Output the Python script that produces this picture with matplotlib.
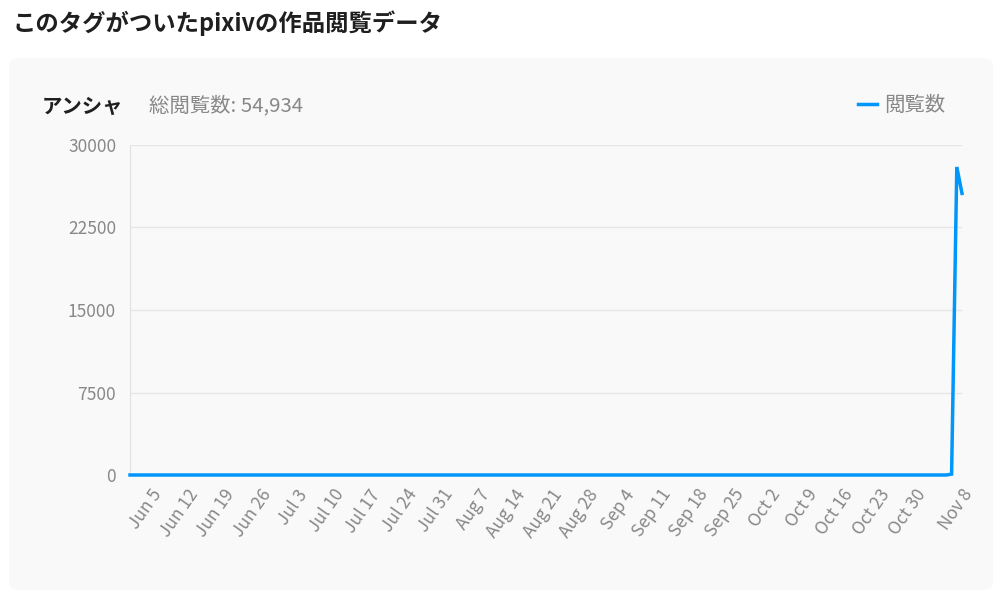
import numpy as np
import pandas as pd
import matplotlib
matplotlib.use("Agg")
import matplotlib.pyplot as plt
from matplotlib.patches import FancyBboxPatch

plt.rcParams['font.family'] = ['Noto Sans CJK JP', 'DejaVu Sans']

# 日別閲覧数 (Jun 1 - Nov 8)
start_date = "2023-06-01"
views = [
    0, 0, 0, 0, 0, 0, 0, 0, 0, 0, 0, 0, 0, 0, 0, 0, 0, 0, 0, 0,
    0, 0, 0, 0, 0, 0, 0, 0, 0, 0, 0, 0, 0, 0, 0, 0, 0, 0, 0, 0,
    0, 0, 0, 0, 0, 0, 0, 0, 0, 0, 0, 0, 0, 0, 0, 0, 0, 0, 0, 0,
    0, 0, 0, 0, 0, 0, 0, 0, 0, 0, 0, 0, 0, 0, 0, 0, 0, 0, 0, 0,
    0, 0, 0, 0, 0, 0, 0, 0, 0, 0, 0, 0, 0, 0, 0, 0, 0, 0, 0, 0,
    0, 0, 0, 0, 0, 0, 0, 0, 0, 0, 0, 0, 0, 0, 0, 0, 0, 0, 0, 0,
    0, 0, 0, 0, 0, 0, 0, 0, 0, 0, 0, 0, 0, 0, 0, 0, 0, 0, 0, 0,
    0, 0, 0, 0, 0, 0, 0, 0, 0, 0, 0, 0, 0, 0, 0, 0, 0, 0, 80, 28000,
    25600,
]
tick_labels = ["Jun 5", "Jun 12", "Jun 19", "Jun 26", "Jul 3", "Jul 10", "Jul 17",
               "Jul 24", "Jul 31", "Aug 7", "Aug 14", "Aug 21", "Aug 28", "Sep 4",
               "Sep 11", "Sep 18", "Sep 25", "Oct 2", "Oct 9", "Oct 16", "Oct 23",
               "Oct 30", "Nov 8"]
y_ticks = [0, 7500, 15000, 22500, 30000]

dates = pd.date_range(start_date, periods=len(views), freq="D")
tick_dates = pd.to_datetime([t + " 2023" for t in tick_labels], format="%b %d %Y")

blue = "#0096fa"
gray = "#888888"

fig = plt.figure(figsize=(10.01, 6.03), dpi=100)
fig.patch.set_facecolor("white")

# カード背景
card = FancyBboxPatch((9 / 1001, 13 / 603), 984 / 1001, 532 / 603,
                      boxstyle="round,pad=0,rounding_size=0.012",
                      transform=fig.transFigure, facecolor="#f9f9f9",
                      edgecolor="none", zorder=-1)
fig.patches.append(card)

fig.text(12 / 1001, 1 - 23 / 603, "このタグがついたpixivの作品閲覧データ",
         fontsize=16.8, fontweight="bold", color="#1f1f1f", va="center", ha="left")
fig.text(42 / 1001, 1 - 106 / 603, "アンシャ", fontsize=14.7, fontweight="bold",
         color="#1f1f1f", va="center", ha="left")
fig.text(149 / 1001, 1 - 106 / 603, "総閲覧数: 54,934", fontsize=14.7,
         color=gray, va="center", ha="left")

ax = fig.add_axes([130 / 1001, 128 / 603, 832 / 1001, 330 / 603])
ax.set_facecolor("none")
ax.plot(dates, views, color=blue, linewidth=2.5, label="閲覧数",
        solid_joinstyle="miter", zorder=3, clip_on=False)

ax.set_xlim(dates[0], dates[-1])
ax.set_ylim(0, 30000)
ax.set_yticks(y_ticks)
ax.set_yticklabels([str(v) for v in y_ticks])
ax.set_xticks(tick_dates)
ax.set_xticklabels(tick_labels, rotation=55, ha="right", rotation_mode="anchor")
ax.tick_params(axis="both", length=0, colors=gray, labelsize=12.5)
ax.tick_params(axis="y", pad=10)
ax.tick_params(axis="x", pad=8)
ax.grid(axis="y", color="#e6e6e6", linewidth=1)
ax.set_axisbelow(True)
for side in ["top", "right", "bottom"]:
    ax.spines[side].set_visible(False)
ax.spines["left"].set_color("#e2e2e2")

leg = ax.legend(loc="lower right", bbox_to_anchor=(953 / 1001, 1 - 124 / 603),
                bbox_transform=fig.transFigure, frameon=False, fontsize=14.7,
                handlelength=0.9, handletextpad=0.35, borderaxespad=0)
for t in leg.get_texts():
    t.set_color(gray)

fig.savefig("out.png", dpi=100)
